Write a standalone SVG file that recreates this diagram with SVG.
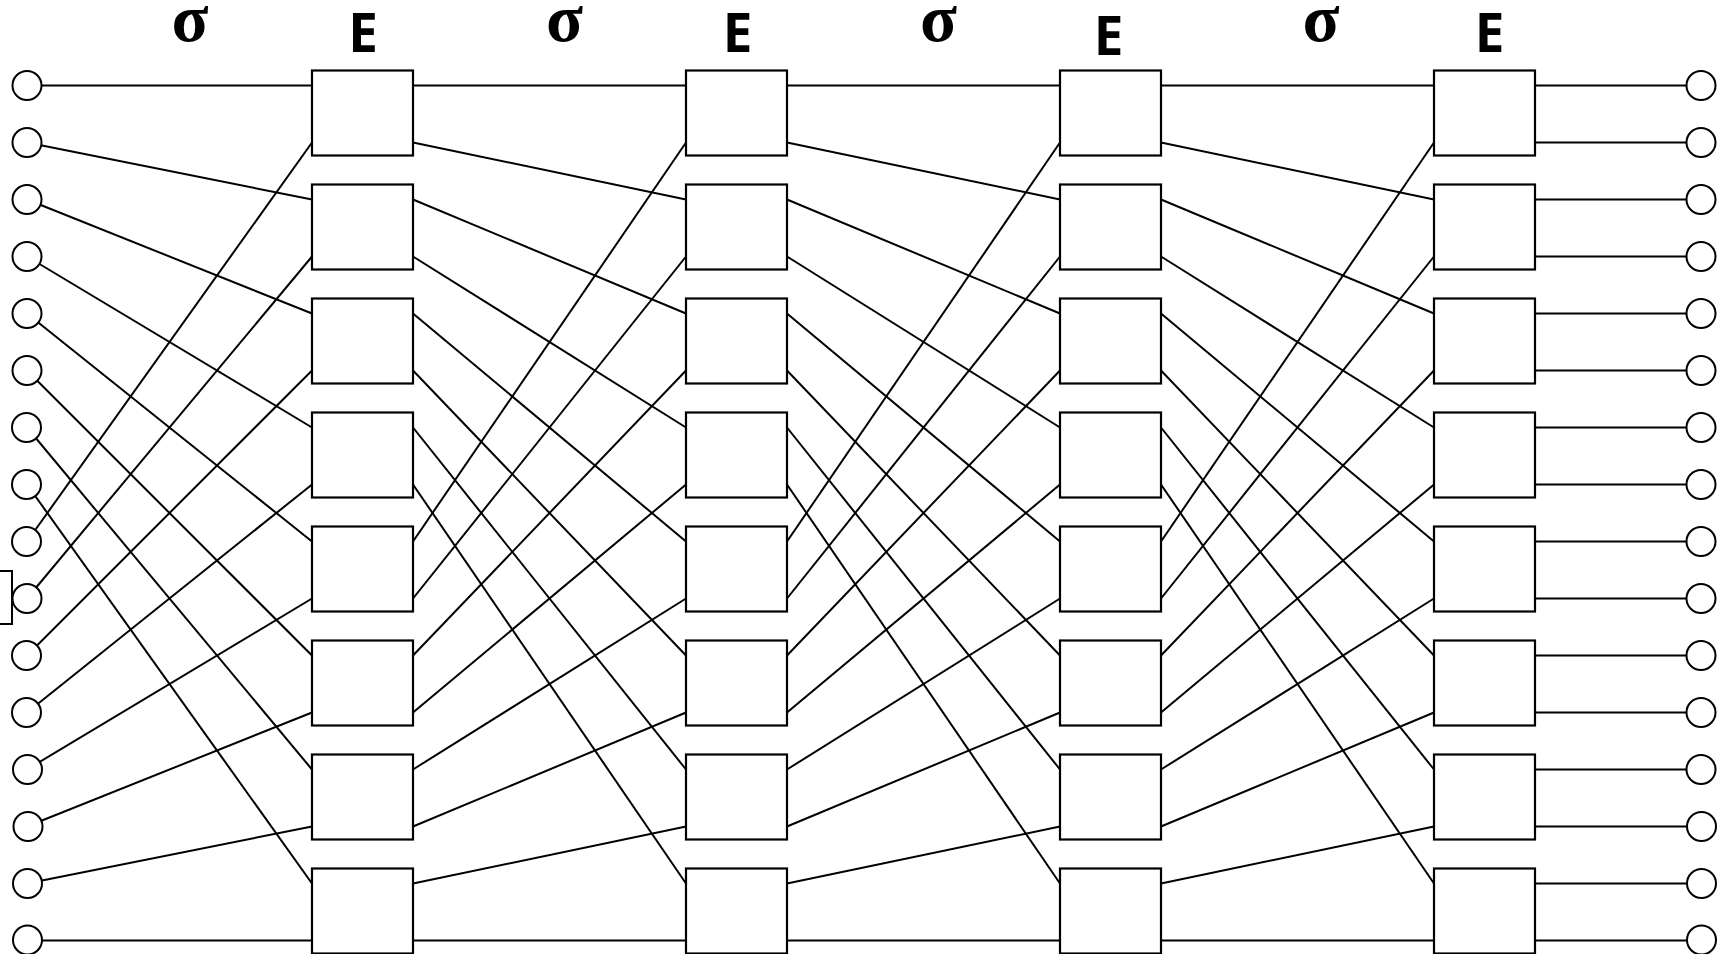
<svg xmlns="http://www.w3.org/2000/svg" width="1729" height="954" viewBox="0 0 1729 954">
<style>
.c{stroke:#000;stroke-width:2;fill:none}
.b{stroke:#000;stroke-width:2.2;fill:#fff}
.n{stroke:#000;stroke-width:2;fill:#fff}
.s{font-family:"Liberation Serif","Times New Roman",serif;font-weight:bold;font-size:68px;text-anchor:middle;fill:#000}
.e{font-family:"Open Sans","DejaVu Sans",sans-serif;font-weight:bold;font-size:53px;text-anchor:middle;fill:#000}
</style>
<rect width="1729" height="954" fill="#fff"/>
<g id="labels">
<text class="s" x="190" y="40.5">σ</text>
<text class="s" x="564.5" y="40.5">σ</text>
<text class="s" x="938.5" y="40.5">σ</text>
<text class="s" x="1321" y="40.5">σ</text>
<text class="e" x="363" y="52">E</text>
<text class="e" x="737.7" y="52">E</text>
<text class="e" x="1108.7" y="55">E</text>
<text class="e" x="1489.7" y="52">E</text>
</g>
<g id="connectors" class="c">
<!-- stage 0: inputs to column 1 -->
<line x1="27" y1="85.5" x2="312" y2="85.5"/>
<line x1="27" y1="142.5" x2="312" y2="199.5"/>
<line x1="27" y1="199.5" x2="312" y2="313.5"/>
<line x1="27" y1="256.5" x2="312" y2="427.5"/>
<line x1="27" y1="313.5" x2="312" y2="541.5"/>
<line x1="27" y1="370.5" x2="312" y2="655.5"/>
<line x1="27" y1="427.5" x2="312" y2="769.5"/>
<line x1="27" y1="484.5" x2="312" y2="883.5"/>
<line x1="27" y1="541.5" x2="312" y2="142.5"/>
<line x1="27" y1="598.5" x2="312" y2="256.5"/>
<line x1="27" y1="655.5" x2="312" y2="370.5"/>
<line x1="27" y1="712.5" x2="312" y2="484.5"/>
<line x1="27" y1="769.5" x2="312" y2="598.5"/>
<line x1="27" y1="826.5" x2="312" y2="712.5"/>
<line x1="27" y1="883.5" x2="312" y2="826.5"/>
<line x1="27" y1="940.5" x2="312" y2="940.5"/>
<!-- stage 1 -->
<line x1="413" y1="85.5" x2="686" y2="85.5"/>
<line x1="413" y1="142.5" x2="686" y2="199.5"/>
<line x1="413" y1="199.5" x2="686" y2="313.5"/>
<line x1="413" y1="256.5" x2="686" y2="427.5"/>
<line x1="413" y1="313.5" x2="686" y2="541.5"/>
<line x1="413" y1="370.5" x2="686" y2="655.5"/>
<line x1="413" y1="427.5" x2="686" y2="769.5"/>
<line x1="413" y1="484.5" x2="686" y2="883.5"/>
<line x1="413" y1="541.5" x2="686" y2="142.5"/>
<line x1="413" y1="598.5" x2="686" y2="256.5"/>
<line x1="413" y1="655.5" x2="686" y2="370.5"/>
<line x1="413" y1="712.5" x2="686" y2="484.5"/>
<line x1="413" y1="769.5" x2="686" y2="598.5"/>
<line x1="413" y1="826.5" x2="686" y2="712.5"/>
<line x1="413" y1="883.5" x2="686" y2="826.5"/>
<line x1="413" y1="940.5" x2="686" y2="940.5"/>
<!-- stage 2 -->
<line x1="787" y1="85.5" x2="1060" y2="85.5"/>
<line x1="787" y1="142.5" x2="1060" y2="199.5"/>
<line x1="787" y1="199.5" x2="1060" y2="313.5"/>
<line x1="787" y1="256.5" x2="1060" y2="427.5"/>
<line x1="787" y1="313.5" x2="1060" y2="541.5"/>
<line x1="787" y1="370.5" x2="1060" y2="655.5"/>
<line x1="787" y1="427.5" x2="1060" y2="769.5"/>
<line x1="787" y1="484.5" x2="1060" y2="883.5"/>
<line x1="787" y1="541.5" x2="1060" y2="142.5"/>
<line x1="787" y1="598.5" x2="1060" y2="256.5"/>
<line x1="787" y1="655.5" x2="1060" y2="370.5"/>
<line x1="787" y1="712.5" x2="1060" y2="484.5"/>
<line x1="787" y1="769.5" x2="1060" y2="598.5"/>
<line x1="787" y1="826.5" x2="1060" y2="712.5"/>
<line x1="787" y1="883.5" x2="1060" y2="826.5"/>
<line x1="787" y1="940.5" x2="1060" y2="940.5"/>
<!-- stage 3 -->
<line x1="1161" y1="85.5" x2="1434" y2="85.5"/>
<line x1="1161" y1="142.5" x2="1434" y2="199.5"/>
<line x1="1161" y1="199.5" x2="1434" y2="313.5"/>
<line x1="1161" y1="256.5" x2="1434" y2="427.5"/>
<line x1="1161" y1="313.5" x2="1434" y2="541.5"/>
<line x1="1161" y1="370.5" x2="1434" y2="655.5"/>
<line x1="1161" y1="427.5" x2="1434" y2="769.5"/>
<line x1="1161" y1="484.5" x2="1434" y2="883.5"/>
<line x1="1161" y1="541.5" x2="1434" y2="142.5"/>
<line x1="1161" y1="598.5" x2="1434" y2="256.5"/>
<line x1="1161" y1="655.5" x2="1434" y2="370.5"/>
<line x1="1161" y1="712.5" x2="1434" y2="484.5"/>
<line x1="1161" y1="769.5" x2="1434" y2="598.5"/>
<line x1="1161" y1="826.5" x2="1434" y2="712.5"/>
<line x1="1161" y1="883.5" x2="1434" y2="826.5"/>
<line x1="1161" y1="940.5" x2="1434" y2="940.5"/>
<!-- outputs -->
<line x1="1535" y1="85.5" x2="1701" y2="85.5"/>
<line x1="1535" y1="142.5" x2="1701" y2="142.5"/>
<line x1="1535" y1="199.5" x2="1701" y2="199.5"/>
<line x1="1535" y1="256.5" x2="1701" y2="256.5"/>
<line x1="1535" y1="313.5" x2="1701" y2="313.5"/>
<line x1="1535" y1="370.5" x2="1701" y2="370.5"/>
<line x1="1535" y1="427.5" x2="1701" y2="427.5"/>
<line x1="1535" y1="484.5" x2="1701" y2="484.5"/>
<line x1="1535" y1="541.5" x2="1701" y2="541.5"/>
<line x1="1535" y1="598.5" x2="1701" y2="598.5"/>
<line x1="1535" y1="655.5" x2="1701" y2="655.5"/>
<line x1="1535" y1="712.5" x2="1701" y2="712.5"/>
<line x1="1535" y1="769.5" x2="1701" y2="769.5"/>
<line x1="1535" y1="826.5" x2="1701" y2="826.5"/>
<line x1="1535" y1="883.5" x2="1701" y2="883.5"/>
<line x1="1535" y1="940.5" x2="1701" y2="940.5"/>
</g>
<rect id="left-tab" class="n" x="-2" y="571" width="14" height="53"/>
<g id="inputs" class="n">
<circle id="in0" cx="27" cy="85.5" r="14.5"/>
<circle id="in1" cx="27" cy="142.5" r="14.5"/>
<circle id="in2" cx="27" cy="199.5" r="14.5"/>
<circle id="in3" cx="27" cy="256.5" r="14.5"/>
<circle id="in4" cx="27" cy="313.5" r="14.5"/>
<circle id="in5" cx="27" cy="370.5" r="14.5"/>
<circle id="in6" cx="26.5" cy="427.5" r="14.5"/>
<circle id="in7" cx="26.5" cy="484.5" r="14.5"/>
<circle id="in8" cx="26.5" cy="541.5" r="14.5"/>
<circle id="in9" cx="27" cy="598.5" r="14.5"/>
<circle id="in10" cx="26.5" cy="655.5" r="14.5"/>
<circle id="in11" cx="26.5" cy="712.5" r="14.5"/>
<circle id="in12" cx="27.5" cy="769.5" r="14.5"/>
<circle id="in13" cx="28" cy="826.5" r="14.5"/>
<circle id="in14" cx="27.5" cy="883.5" r="14.5"/>
<circle id="in15" cx="27.5" cy="940" r="14.5"/>
</g>
<g id="col1" class="b">
<rect id="e1_0" x="312" y="70.5" width="101" height="85"/>
<rect id="e1_1" x="312" y="184.5" width="101" height="85"/>
<rect id="e1_2" x="312" y="298.5" width="101" height="85"/>
<rect id="e1_3" x="312" y="412.5" width="101" height="85"/>
<rect id="e1_4" x="312" y="526.5" width="101" height="85"/>
<rect id="e1_5" x="312" y="640.5" width="101" height="85"/>
<rect id="e1_6" x="312" y="754.5" width="101" height="85"/>
<rect id="e1_7" x="312" y="868.5" width="101" height="85"/>
</g>
<g id="col2" class="b">
<rect id="e2_0" x="686" y="70.5" width="101" height="85"/>
<rect id="e2_1" x="686" y="184.5" width="101" height="85"/>
<rect id="e2_2" x="686" y="298.5" width="101" height="85"/>
<rect id="e2_3" x="686" y="412.5" width="101" height="85"/>
<rect id="e2_4" x="686" y="526.5" width="101" height="85"/>
<rect id="e2_5" x="686" y="640.5" width="101" height="85"/>
<rect id="e2_6" x="686" y="754.5" width="101" height="85"/>
<rect id="e2_7" x="686" y="868.5" width="101" height="85"/>
</g>
<g id="col3" class="b">
<rect id="e3_0" x="1060" y="70.5" width="101" height="85"/>
<rect id="e3_1" x="1060" y="184.5" width="101" height="85"/>
<rect id="e3_2" x="1060" y="298.5" width="101" height="85"/>
<rect id="e3_3" x="1060" y="412.5" width="101" height="85"/>
<rect id="e3_4" x="1060" y="526.5" width="101" height="85"/>
<rect id="e3_5" x="1060" y="640.5" width="101" height="85"/>
<rect id="e3_6" x="1060" y="754.5" width="101" height="85"/>
<rect id="e3_7" x="1060" y="868.5" width="101" height="85"/>
</g>
<g id="col4" class="b">
<rect id="e4_0" x="1434" y="70.5" width="101" height="85"/>
<rect id="e4_1" x="1434" y="184.5" width="101" height="85"/>
<rect id="e4_2" x="1434" y="298.5" width="101" height="85"/>
<rect id="e4_3" x="1434" y="412.5" width="101" height="85"/>
<rect id="e4_4" x="1434" y="526.5" width="101" height="85"/>
<rect id="e4_5" x="1434" y="640.5" width="101" height="85"/>
<rect id="e4_6" x="1434" y="754.5" width="101" height="85"/>
<rect id="e4_7" x="1434" y="868.5" width="101" height="85"/>
</g>
<g id="outputs" class="n">
<circle id="out0" cx="1701" cy="85.5" r="14.5"/>
<circle id="out1" cx="1701" cy="142.5" r="14.5"/>
<circle id="out2" cx="1701" cy="199.5" r="14.5"/>
<circle id="out3" cx="1701" cy="256.5" r="14.5"/>
<circle id="out4" cx="1701" cy="313.5" r="14.5"/>
<circle id="out5" cx="1701" cy="370.5" r="14.5"/>
<circle id="out6" cx="1701" cy="427.5" r="14.5"/>
<circle id="out7" cx="1701" cy="484.5" r="14.5"/>
<circle id="out8" cx="1701" cy="541.5" r="14.5"/>
<circle id="out9" cx="1701" cy="598.5" r="14.5"/>
<circle id="out10" cx="1701" cy="655.5" r="14.5"/>
<circle id="out11" cx="1701" cy="712.5" r="14.5"/>
<circle id="out12" cx="1701" cy="769.5" r="14.5"/>
<circle id="out13" cx="1701.5" cy="826.5" r="14.5"/>
<circle id="out14" cx="1701.5" cy="883.5" r="14.5"/>
<circle id="out15" cx="1701.5" cy="940" r="14.5"/>
</g>
</svg>
